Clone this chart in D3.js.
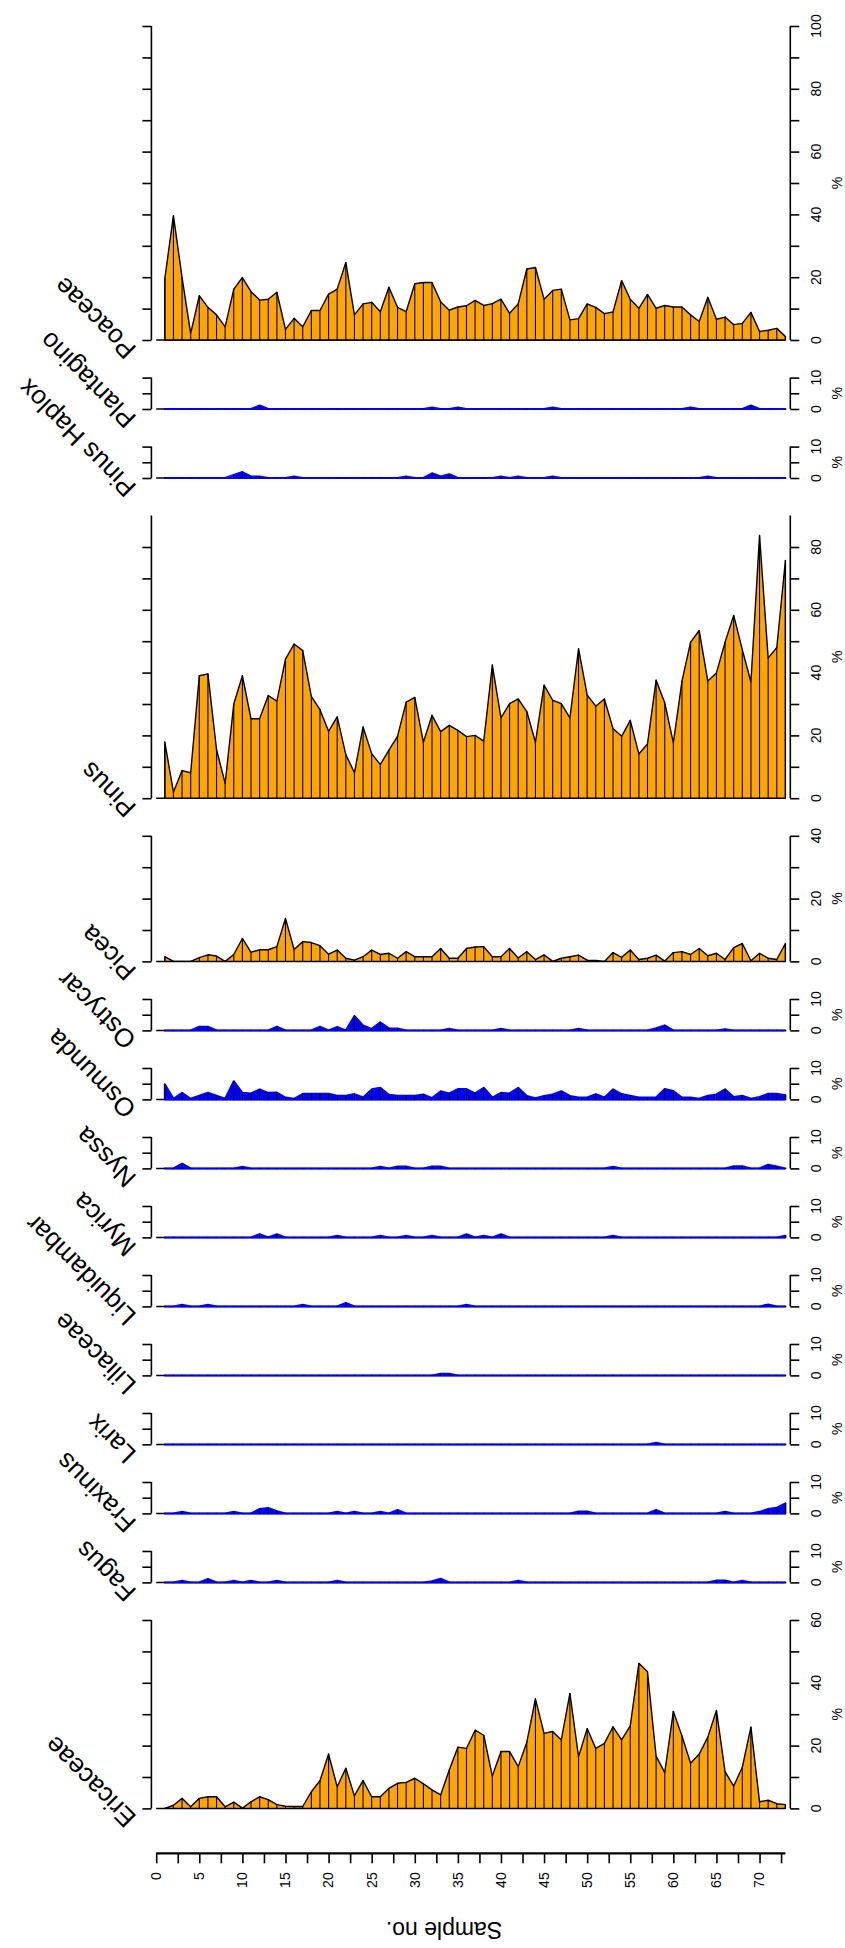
<!DOCTYPE html>
<html lang="en">
<head>
    <meta charset="UTF-8">
    <title>Pollen diagram</title>
    <style>
        body { margin: 0; background: #fff; }
        svg { display: block; }
        text { font-family: "Liberation Sans", Arial, sans-serif; fill: #000; }
    </style>
</head>
<body>
    <svg id="chart" width="845" height="1948"></svg>
    <script src="https://d3js.org/d3.v7.min.js"></script>
    <script>
        // samples 1..73
        const samples = d3.range(1, 74);

        // taxa, top panel first
        const taxa = ['Poaceae', 'Plantagino', 'Pinus Haplox', 'Pinus', 'Picea', 'Ostrycar', 'Osmunda',
            'Nyssa', 'Myrica', 'Liquidambar', 'Liliaceae', 'Larix', 'Fraxinus', 'Fagus', 'Ericaceae'];
        const axisMax = [100, 10, 10, 90, 40, 10, 10, 10, 10, 10, 10, 10, 10, 10, 60];
        const tickLabels = [[0, 20, 40, 60, 80, 100], [0, 10], [0, 10], [0, 20, 40, 60, 80], [0, 20, 40],
            [0, 10], [0, 10], [0, 10], [0, 10], [0, 10], [0, 10], [0, 10], [0, 10], [0, 10], [0, 20, 40, 60]];
        const sampleTicks = [0, 5, 10, 15, 20, 25, 30, 35, 40, 45, 50, 55, 60, 65, 70];

        const poaceae = [19.6, 39.6, 19.9, 2.1, 14.1, 10.4, 8.0, 4.2, 16.2, 19.9, 15.4, 12.7, 13.0, 15.2, 3.4,
            6.9, 4.2, 9.4, 9.4, 14.6, 16.2, 24.7, 8.0, 11.5, 12.0, 9.0, 16.8, 10.4, 9.0, 17.9, 18.3, 18.3, 12.2,
            9.5, 10.5, 10.9, 12.6, 11.0, 11.6, 13.0, 8.5, 11.5, 22.6, 23.1, 13.0, 15.8, 16.2, 6.4, 6.8, 11.5,
            10.4, 8.4, 8.9, 18.9, 13.0, 10.1, 14.5, 10.1, 11.0, 10.5, 10.5, 8.0, 5.9, 13.6, 6.6, 7.3, 4.9, 5.3,
            8.8, 2.7, 3.1, 3.7, 1.1];
        const plantagino = [0, 0, 0, 0, 0, 0, 0, 0, 0, 0, 0, 1.1, 0, 0, 0, 0, 0, 0, 0, 0, 0, 0, 0, 0, 0, 0, 0,
            0, 0, 0, 0, 0.5, 0, 0, 0.5, 0, 0, 0, 0, 0, 0, 0, 0, 0, 0, 0.5, 0, 0, 0, 0, 0, 0, 0, 0, 0, 0, 0, 0, 0,
            0, 0, 0.5, 0, 0, 0, 0, 0, 0, 1.1, 0, 0, 0, 0];
        const pinusHaplox = [0, 0, 0, 0, 0, 0, 0, 0, 1.0, 1.9, 0.5, 0.5, 0, 0, 0, 0.5, 0, 0, 0, 0, 0, 0, 0, 0,
            0, 0, 0, 0, 0.5, 0, 0, 1.5, 0.5, 1.2, 0, 0, 0, 0, 0, 0.5, 0, 0.5, 0, 0, 0, 0.5, 0, 0, 0, 0, 0, 0, 0,
            0, 0, 0, 0, 0, 0, 0, 0, 0, 0, 0.5, 0, 0, 0, 0, 0, 0, 0, 0, 0];
        const pinus = [17.9, 1.9, 8.8, 8.1, 39.0, 39.6, 15.5, 4.7, 30.0, 39.0, 25.3, 25.3, 32.7, 30.9, 44.3,
            49.1, 47.0, 32.4, 28.2, 21.3, 25.9, 13.9, 8.1, 22.7, 14.2, 10.7, 15.3, 19.7, 30.6, 32.1, 17.8, 26.4,
            21.2, 23.2, 21.6, 19.6, 20.0, 18.2, 42.4, 25.6, 30.1, 31.6, 27.6, 17.8, 36.0, 31.2, 30.1, 25.6, 47.6,
            32.9, 29.3, 31.6, 22.2, 19.7, 24.8, 14.1, 17.3, 37.6, 30.4, 17.6, 37.3, 49.7, 53.4, 37.3, 39.9, 49.7,
            58.2, 47.3, 37.0, 83.7, 44.6, 48.0, 75.7];
        const picea = [1.5, 0, 0, 0, 1.2, 2.1, 1.7, 0, 2.2, 7.3, 2.9, 3.7, 3.7, 4.7, 13.7, 3.8, 6.3, 6.0, 5.0,
            2.3, 3.6, 1.0, 0.4, 1.5, 3.6, 2.2, 2.6, 1.0, 3.1, 1.5, 1.5, 1.5, 4.1, 1.0, 1.0, 4.1, 4.6, 4.7, 1.5,
            1.5, 4.1, 1.1, 3.1, 0.6, 2.1, 0, 1.0, 1.5, 2.0, 0.4, 0.3, 0, 2.8, 1.3, 3.6, 0.6, 1.0, 2.0, 0.1, 2.8,
            3.1, 2.2, 4.1, 1.8, 2.6, 0.6, 4.4, 5.7, 0.2, 2.6, 1.0, 0.6, 5.7];
        const ostrycar = [0, 0, 0, 0, 1.2, 1.2, 0, 0, 0, 0, 0, 0, 0, 1.2, 0, 0, 0, 0, 1.2, 0, 1.1, 0, 4.6, 1.6,
            0.5, 2.6, 0.7, 0.6, 0, 0, 0, 0, 0, 0.5, 0, 0, 0, 0, 0, 0.5, 0, 0, 0, 0, 0, 0, 0, 0, 0.5, 0, 0, 0, 0,
            0, 0, 0, 0, 0.7, 1.6, 0, 0, 0, 0, 0, 0, 0.4, 0, 0, 0, 0, 0, 0, 0];
        const osmunda = [4.8, 0.2, 2.1, 0.2, 1.2, 2.1, 1.2, 0.2, 5.8, 2.1, 1.9, 3.2, 2.1, 2.2, 0.6, 0.2, 1.8,
            1.8, 1.8, 1.8, 1.2, 1.2, 1.7, 0.6, 3.2, 3.7, 1.5, 1.2, 1.2, 1.2, 1.6, 0.4, 2.6, 1.9, 3.3, 3.3, 1.9,
            3.7, 0.6, 2.1, 1.9, 3.7, 1.1, 0.4, 1.1, 1.6, 2.6, 1.1, 0.6, 0.6, 1.7, 0.6, 3.2, 1.7, 1.2, 0.6, 0.6,
            0.6, 3.3, 2.7, 0.6, 0.6, 0.2, 1.2, 1.6, 3.2, 0.8, 1.2, 0.2, 0.8, 1.8, 1.8, 1.3];
        const nyssa = [0, 0, 1.5, 0, 0, 0, 0, 0, 0, 0.5, 0, 0, 0, 0, 0, 0, 0, 0, 0, 0, 0, 0, 0, 0, 0, 0.5, 0,
            0.6, 0.6, 0, 0, 0.6, 0.6, 0, 0, 0, 0, 0, 0, 0, 0, 0, 0, 0, 0, 0, 0, 0, 0, 0, 0, 0, 0.5, 0, 0, 0, 0,
            0, 0, 0, 0, 0, 0, 0, 0, 0, 0.7, 0.7, 0, 0, 1.2, 0.6, 0];
        const myrica = [0, 0, 0, 0, 0, 0, 0, 0, 0, 0, 0, 1.0, 0, 1.0, 0, 0, 0, 0, 0, 0, 0.5, 0, 0, 0, 0, 0.5,
            0, 0, 0.5, 0, 0, 0.5, 0, 0, 0, 1.0, 0, 0.5, 0, 1.0, 0, 0, 0, 0, 0, 0, 0, 0, 0, 0, 0, 0, 0.5, 0, 0, 0,
            0, 0, 0, 0, 0, 0, 0, 0, 0, 0, 0, 0, 0, 0, 0, 0, 0.5];
        const liquidambar = [0, 0, 0.5, 0, 0, 0.5, 0, 0, 0, 0, 0, 0, 0, 0, 0, 0, 0.5, 0, 0, 0, 0, 1.1, 0, 0, 0,
            0, 0, 0, 0, 0, 0, 0, 0, 0, 0, 0.5, 0, 0, 0, 0, 0, 0, 0, 0, 0, 0, 0, 0, 0, 0, 0, 0, 0, 0, 0, 0, 0, 0,
            0, 0, 0, 0, 0, 0, 0, 0, 0, 0, 0, 0, 0.6, 0, 0];
        const liliaceae = [0, 0, 0, 0, 0, 0, 0, 0, 0, 0, 0, 0, 0, 0, 0, 0, 0, 0, 0, 0, 0, 0, 0, 0, 0, 0, 0, 0,
            0, 0, 0, 0, 0.5, 0.5, 0, 0, 0, 0, 0, 0, 0, 0, 0, 0, 0, 0, 0, 0, 0, 0, 0, 0, 0, 0, 0, 0, 0, 0, 0, 0, 0,
            0, 0, 0, 0, 0, 0, 0, 0, 0, 0, 0, 0];
        const larix = [0, 0, 0, 0, 0, 0, 0, 0, 0, 0, 0, 0, 0, 0, 0, 0, 0, 0, 0, 0, 0, 0, 0, 0, 0, 0, 0, 0, 0, 0,
            0, 0, 0, 0, 0, 0, 0, 0, 0, 0, 0, 0, 0, 0, 0, 0, 0, 0, 0, 0, 0, 0, 0, 0, 0, 0, 0, 0.5, 0, 0, 0, 0, 0, 0,
            0, 0, 0, 0, 0, 0, 0, 0, 0];
        const fraxinus = [0, 0, 0.5, 0, 0, 0, 0, 0, 0.5, 0, 0, 1.4, 1.7, 0.7, 0, 0, 0, 0, 0, 0, 0.5, 0, 0.5, 0,
            0, 0.5, 0, 1.1, 0, 0, 0, 0, 0, 0, 0, 0, 0, 0, 0, 0, 0, 0, 0, 0, 0, 0, 0, 0, 0.6, 0.6, 0, 0, 0, 0, 0,
            0, 0, 1.1, 0, 0, 0, 0, 0, 0, 0, 0.5, 0, 0, 0, 0.5, 1.4, 1.8, 3.2];
        const fagus = [0, 0, 0.5, 0, 0, 1.1, 0, 0, 0.5, 0, 0.5, 0, 0, 0.5, 0, 0, 0, 0, 0, 0, 0.5, 0, 0, 0, 0, 0,
            0, 0, 0, 0, 0, 0.4, 1.2, 0, 0, 0, 0, 0, 0, 0, 0, 0.5, 0, 0, 0, 0, 0, 0, 0, 0, 0, 0, 0, 0, 0, 0, 0, 0,
            0, 0, 0, 0, 0, 0, 0.6, 0.6, 0, 0.5, 0, 0, 0, 0, 0];
        const ericaceae = [0.0, 1.0, 3.2, 0.5, 3.2, 3.7, 3.7, 0.5, 2.0, 0.1, 2.1, 3.7, 2.8, 1.2, 0.7, 0.6, 0.6,
            5.3, 8.8, 17.3, 6.9, 12.8, 4.0, 8.9, 3.7, 3.7, 6.4, 8.0, 8.3, 9.6, 7.8, 5.9, 4.3, 12.2, 19.5, 19.1,
            24.9, 23.3, 10.3, 18.1, 18.1, 13.3, 21.1, 34.9, 23.9, 24.5, 21.8, 36.6, 16.5, 25.4, 19.1, 20.7, 26.0,
            21.8, 26.3, 46.2, 43.5, 16.7, 11.4, 30.9, 23.1, 14.4, 17.3, 22.7, 31.2, 11.7, 7.1, 13.1, 25.9, 2.1,
            2.6, 1.5, 1.2];

        const values = [poaceae, plantagino, pinusHaplox, pinus, picea, ostrycar, osmunda, nyssa, myrica,
            liquidambar, liliaceae, larix, fraxinus, fagus, ericaceae];
        const fills = ['orange', 'blue', 'blue', 'orange', 'orange', 'blue', 'blue', 'blue', 'blue', 'blue',
            'blue', 'blue', 'blue', 'blue', 'orange'];

        const svg = d3.select('#chart');
        const x = d3.scaleLinear().domain([0, 73]).range([156.2, 785.4]);
        const leftX = 151.4, rightX = 790.3;
        const pxPerPct = 3.14, gap = 37.6, top0 = 26;

        let yTop = top0;
        taxa.forEach((name, i) => {
            const h = axisMax[i] * pxPerPct;
            const y = d3.scaleLinear().domain([0, axisMax[i]]).range([yTop + h, yTop]);
            const g = svg.append('g');
            const data = samples.map((s, j) => [s, values[i][j]]);
            const blue = fills[i] === 'blue';

            // baseline
            g.append('line')
                .attr('x1', x(0)).attr('x2', x(73))
                .attr('y1', y(0)).attr('y2', y(0))
                .attr('stroke', '#000').attr('stroke-width', 1.5);

            const area = d3.area().x(d => x(d[0])).y0(y(0)).y1(d => y(d[1]));
            g.append('path')
                .attr('d', area(data))
                .attr('fill', fills[i])
                .attr('stroke', blue ? 'blue' : '#000')
                .attr('stroke-width', blue ? 2 : 1.4)
                .attr('stroke-linejoin', 'round');

            g.selectAll('.bar')
                .data(data)
                .join('line')
                .attr('x1', d => x(d[0])).attr('x2', d => x(d[0]))
                .attr('y1', y(0)).attr('y2', d => y(d[1]))
                .attr('stroke', '#000').attr('stroke-width', 1.1)
                .attr('stroke-linecap', 'round');

            const step = axisMax[i] === 10 ? 5 : 10;
            const ticks = d3.range(0, axisMax[i] === 90 ? 81 : axisMax[i] + 1, step);

            // left axis, no labels
            const left = d3.axisLeft(y).tickValues(ticks).tickSize(9).tickFormat('');
            g.append('g').attr('transform', `translate(${leftX},0)`).call(left)
                .call(a => a.select('.domain').attr('d', `M0,${y(0)}V${y(axisMax[i])}`));

            const right = d3.axisRight(y).tickValues(ticks).tickSize(9).tickFormat('');
            g.append('g').attr('transform', `translate(${rightX},0)`).call(right)
                .call(a => a.select('.domain').attr('d', `M0,${y(0)}V${y(axisMax[i])}`));

            svg.selectAll('.domain, .tick line').attr('stroke', '#000').attr('stroke-width', 1.6);

            g.selectAll('.tlab')
                .data(tickLabels[i])
                .join('text')
                .attr('transform', d => `translate(${rightX + 26},${y(d)}) rotate(-90)`)
                .attr('text-anchor', 'middle')
                .attr('dy', '0.35em')
                .attr('font-size', 14)
                .text(d => d);

            g.append('text')
                .attr('transform', `translate(${rightX + 47},${yTop + h / 2}) rotate(-90)`)
                .attr('text-anchor', 'middle')
                .attr('dy', '0.35em')
                .attr('font-size', 14)
                .text('%');

            g.append('text')
                .attr('transform', `translate(${leftX - 14},${y(0) + 8}) rotate(-135)`)
                .attr('font-size', 26)
                .text(name);

            yTop += h + gap;
        });

        // sample axis
        const axisY = 1853.3;
        const bottom = d3.axisBottom(x).tickValues(d3.range(0, 73, 2.5)).tickSize(10).tickFormat('');
        svg.append('g').attr('transform', `translate(0,${axisY})`).call(bottom)
            .call(a => a.select('.domain').attr('d', `M${x(0)},0H${x(73)}`)
                .attr('stroke-width', 2.2))
            .call(a => a.selectAll('.tick line').attr('stroke-width', 1.6));

        svg.selectAll('.slab')
            .data(sampleTicks)
            .join('text')
            .attr('transform', d => `translate(${x(d)},${axisY + 19}) rotate(-90)`)
            .attr('text-anchor', 'end')
            .attr('dy', '0.35em')
            .attr('font-size', 14)
            .text(d => d);

        svg.append('text')
            .attr('transform', `translate(444,1930) rotate(180)`)
            .attr('text-anchor', 'middle')
            .attr('dy', '0.35em')
            .attr('font-size', 23)
            .text('Sample no.');
    </script>
</body>
</html>
